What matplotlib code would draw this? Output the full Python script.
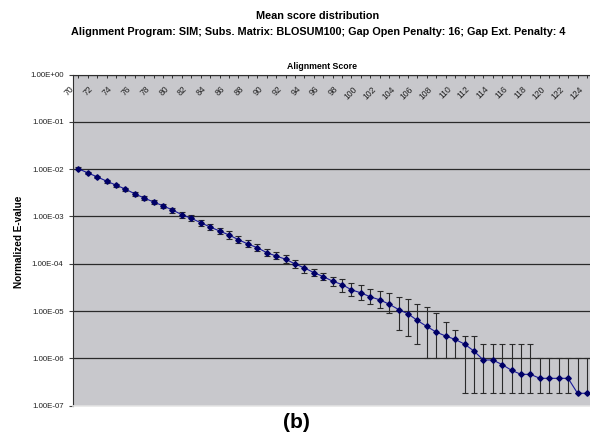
import numpy as np
import matplotlib
matplotlib.use("Agg")
import matplotlib.pyplot as plt
from matplotlib.ticker import FixedLocator, NullLocator
from matplotlib.transforms import offset_copy

plt.rcParams['font.family'] = ['Liberation Sans', 'DejaVu Sans']

# alignment scores 70..124
scores = list(range(70, 125))

# mean normalized E-value per score
evalue = [
    1.02e-2, 8.36e-3, 6.88e-3, 5.59e-3, 4.60e-3, 3.79e-3, 3.01e-3, 2.45e-3, 2.02e-3, 1.68e-3,
    1.37e-3, 1.09e-3, 9.13e-4, 7.38e-4, 5.98e-4, 4.93e-4, 4.06e-4, 3.23e-4, 2.62e-4, 2.19e-4,
    1.72e-4, 1.46e-4, 1.25e-4, 9.93e-5, 8.18e-5, 6.51e-5, 5.36e-5, 4.29e-5, 3.64e-5, 2.81e-5,
    2.43e-5, 2.00e-5, 1.73e-5, 1.40e-5, 1.08e-5, 8.76e-6, 6.33e-6, 4.73e-6, 3.60e-6, 2.97e-6,
    2.52e-6, 2.01e-6, 1.43e-6, 9.26e-7, 9.26e-7, 7.38e-7, 5.59e-7, 4.60e-7, 4.60e-7, 3.79e-7,
    3.79e-7, 3.79e-7, 3.79e-7, 1.83e-7, 1.83e-7,
]

# top / bottom ends of the error bars
err_hi = [
    1.10e-2, 8.86e-3, 7.30e-3, 6.01e-3, 4.95e-3, 4.07e-3, 3.27e-3, 2.70e-3, 2.22e-3, 1.87e-3,
    1.54e-3, 1.24e-3, 1.05e-3, 8.61e-4, 6.93e-4, 5.70e-4, 4.81e-4, 3.87e-4, 3.11e-4, 2.62e-4,
    2.06e-4, 1.74e-4, 1.50e-4, 1.19e-4, 9.93e-5, 7.68e-5, 6.32e-5, 5.36e-5, 4.79e-5, 4.01e-5,
    3.58e-5, 2.95e-5, 2.68e-5, 2.39e-5, 1.97e-5, 1.79e-5, 1.40e-5, 1.21e-5, 9.07e-6, 5.86e-6,
    3.97e-6, 2.97e-6, 2.97e-6, 2.01e-6, 2.01e-6, 2.01e-6, 2.01e-6, 2.01e-6, 2.01e-6, 1.00e-6,
    1.00e-6, 1.00e-6, 1.00e-6, 1.00e-6, 1.00e-6,
]
err_lo = [
    1.00e-2, 7.84e-3, 6.46e-3, 5.19e-3, 4.28e-3, 3.52e-3, 2.76e-3, 2.22e-3, 1.83e-3, 1.51e-3,
    1.21e-3, 9.49e-4, 8.01e-4, 6.28e-4, 5.17e-4, 4.16e-4, 3.42e-4, 2.69e-4, 2.21e-4, 1.82e-4,
    1.43e-4, 1.24e-4, 1.04e-4, 8.18e-5, 6.32e-5, 5.55e-5, 4.50e-5, 3.41e-5, 2.51e-5, 2.13e-5,
    1.73e-5, 1.42e-5, 1.16e-5, 9.07e-6, 4.03e-6, 2.91e-6, 2.04e-6, 1.00e-6, 1.00e-6, 1.00e-6,
    1.00e-6, 1.83e-7, 1.83e-7, 1.83e-7, 1.83e-7, 1.83e-7, 1.83e-7, 1.83e-7, 1.83e-7, 1.83e-7,
    1.83e-7, 1.83e-7, 1.83e-7, 1.83e-7, 1.83e-7,
]

y_ticks = [1e0, 1e-1, 1e-2, 1e-3, 1e-4, 1e-5, 1e-6, 1e-7]
y_labels = ["1.00E+00", "1.00E-01", "1.00E-02", "1.00E-03",
            "1.00E-04", "1.00E-05", "1.00E-06", "1.00E-07"]

x = np.array(scores)
y = np.array(evalue)
yerr = [y - np.array(err_lo), np.array(err_hi) - y]

fig = plt.figure(figsize=(5.9, 4.42), dpi=100)
ax = fig.add_axes([0.1242, 0.0821, 0.8758, 0.7493])
ax.set_facecolor('#c8c8cc')

ax.set_yscale('log')
ax.set_ylim(1e-7, 1)
ax.set_xlim(69.47, 124.32)

# decade gridlines
ax.yaxis.set_major_locator(FixedLocator(y_ticks))
ax.yaxis.set_minor_locator(NullLocator())
ax.set_yticklabels(y_labels)
ax.grid(axis='y', color='#2a2a2a', linewidth=0.9)
ax.set_axisbelow(True)
ax.tick_params(axis='y', direction='out', length=3, width=0.8, color='#404040',
               labelsize=5.7, labelcolor='#222222', pad=4)

# category axis runs along the top, ticks point inward
ax.xaxis.tick_top()
ax.set_xticks(scores)
ax.set_xticklabels([])
ax.tick_params(axis='x', direction='in', length=2.5, width=0.7, color='#303030')
lab_tr = offset_copy(ax.get_xaxis_transform(), fig=fig, x=-2, y=-10, units='dots')
for s in scores[::2]:
    ax.text(s, 1.0, str(s), transform=lab_tr, rotation=45, ha='right', va='top',
            fontsize=6.2, color='#222222')

ax.spines['right'].set_visible(False)
ax.spines['top'].set_color('#303030')
ax.spines['left'].set_color('#303030')
ax.spines['bottom'].set_color('#e6e6e6')
ax.spines['bottom'].set_linewidth(1.2)

ax.errorbar(x, y, yerr=yerr, fmt='none', ecolor='#2a2a2a', elinewidth=0.8,
            capsize=2.2, capthick=0.8, zorder=3)
ax.plot(x, y, color='#1a1a9a', linewidth=0.8, marker='D', markersize=2.8,
        markerfacecolor='#000066', markeredgecolor='#000066', zorder=4, clip_on=False)

fig.text(318 / 590, 1 - 16 / 442, "Mean score distribution", ha='center', va='center',
         fontsize=7.8, fontweight='bold')
fig.text(318 / 590, 1 - 32 / 442,
         "Alignment Program: SIM; Subs. Matrix: BLOSUM100; Gap Open Penalty: 16; Gap Ext. Penalty: 4",
         ha='center', va='center', fontsize=7.8, fontweight='bold')
fig.text(322 / 590, 1 - 66.5 / 442, "Alignment Score", ha='center', va='center',
         fontsize=6.3, fontweight='bold')
fig.text(19 / 590, 1 - 242 / 442, "Normalized E-value", ha='center', va='center',
         rotation=90, fontsize=7.2, fontweight='bold')
fig.text(296 / 590, 1 - 423 / 442, "(b)", ha='center', va='center',
         fontsize=15, fontweight='bold')

fig.savefig('out.png', dpi=100)
